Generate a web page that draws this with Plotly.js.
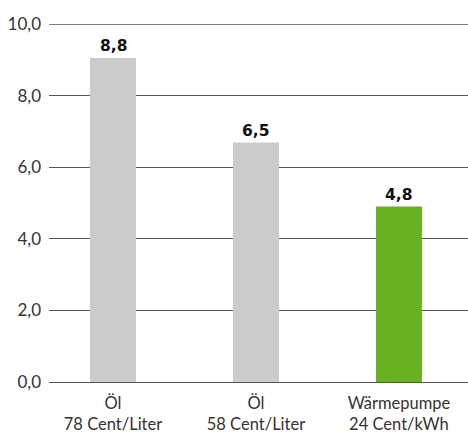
<!DOCTYPE html>
<html>
<head>
<meta charset="utf-8">
<script src="https://cdn.plot.ly/plotly-3.0.1.min.js"></script>
<style>html,body{margin:0;padding:0;background:#fff;}#chart{width:468px;height:437px;}</style>
</head>
<body>
<div id="chart"></div>
<script>
const categories = ['Öl<br>78 Cent/Liter', 'Öl<br>58 Cent/Liter', 'Wärmepumpe<br>24 Cent/kWh'];
// bar heights as drawn in the picture
const values = [9.05, 6.69, 4.9];
// value labels as printed above the bars
const labels = ['8,8', '6,5', '4,8'];
const colors = ['#cbcbcb', '#cbcbcb', '#6ab023'];
const yTicks = [0, 2, 4, 6, 8, 10];

const idx = categories.map((c, i) => i);

const trace = {
  type: 'bar',
  x: idx,
  y: values,
  width: 0.322,
  marker: {color: colors},
  hoverinfo: 'none'
};

const annotations = idx.map((i) => ({
  x: i, y: values[i], xref: 'x', yref: 'y',
  text: '<b>' + labels[i] + '</b>',
  showarrow: false, yanchor: 'bottom', yshift: 1,
  font: {family: '"DejaVu Sans", sans-serif', size: 15.5, color: '#111'}
}));

const layout = {
  width: 468, height: 437,
  margin: {l: 49, r: 0, t: 24, b: 55},
  paper_bgcolor: '#fff', plot_bgcolor: '#fff',
  separators: ',.',
  showlegend: false,
  font: {family: 'Lato, sans-serif', size: 17, color: '#333'},
  xaxis: {
    range: [-0.4476, 2.483],
    tickvals: idx, ticktext: categories,
    showgrid: false, zeroline: false, showline: false, ticks: '',
    ticklabelstandoff: 9,
    tickfont: {size: 16.5, color: '#333'}
  },
  yaxis: {
    range: [0, 10], tickvals: yTicks, tickformat: '.1f',
    showgrid: true, gridcolor: '#555', gridwidth: 1,
    zeroline: true, zerolinecolor: '#555', zerolinewidth: 1,
    showline: false, ticks: '',
    ticklabelstandoff: 7,
    tickfont: {size: 17, color: '#333'}
  },
  shapes: [{
    type: 'line', xref: 'paper', yref: 'y', x0: 0, x1: 1, y0: 10, y1: 10,
    line: {color: '#000', width: 1.2}, layer: 'below'
  }],
  annotations: annotations
};

Plotly.newPlot('chart', [trace], layout, {displayModeBar: false, staticPlot: true});
</script>
</body>
</html>
